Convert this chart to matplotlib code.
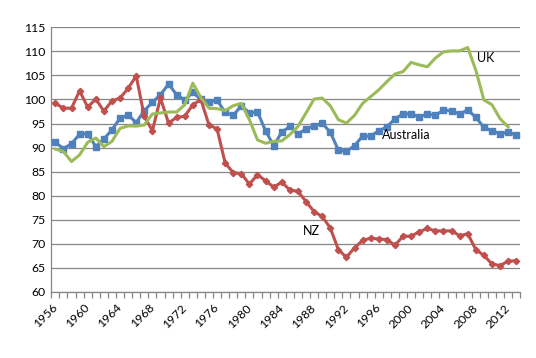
import matplotlib.pyplot as plt

years = list(range(1956, 2014))

australia = [91.1, 89.8, 90.8, 92.8, 92.9, 90.2, 91.8, 93.7, 96.1, 96.8,
             95.2, 97.7, 99.4, 101.0, 103.2, 101.0, 99.9, 101.5, 100.0, 99.4,
             99.9, 97.3, 96.7, 98.7, 97.2, 97.4, 93.5, 90.4, 93.2, 94.4,
             92.8, 93.9, 94.5, 95.1, 93.2, 89.5, 89.2, 90.4, 92.4, 92.4,
             93.5, 94.3, 96.0, 97.0, 97.0, 96.4, 97.0, 96.7, 97.8, 97.6,
             97.0, 97.8, 96.3, 94.2, 93.5, 92.9, 93.2, 92.6]

nz = [99.2, 98.2, 98.2, 101.8, 98.4, 100.1, 97.6, 99.7, 100.3, 102.3,
      104.9, 96.5, 93.5, 100.3, 95.1, 96.3, 96.5, 98.9, 100.0, 94.7,
      93.9, 86.8, 84.8, 84.6, 82.4, 84.4, 83.1, 81.8, 82.8, 81.2,
      80.9, 78.8, 76.7, 75.7, 73.3, 68.8, 67.2, 69.2, 70.7, 71.2,
      71.0, 70.9, 69.7, 71.6, 71.6, 72.5, 73.2, 72.7, 72.7, 72.7,
      71.7, 72.1, 68.8, 67.6, 65.8, 65.5, 66.4, 66.5]

# UK series stops at 2012
uk = [89.7, 89.2, 87.1, 88.5, 91.1, 92.0, 90.2, 91.3, 94.0, 94.5,
      94.5, 94.7, 97.0, 97.2, 97.4, 97.4, 98.9, 103.4, 100.4, 98.2,
      98.1, 97.7, 98.7, 99.2, 95.8, 91.6, 90.9, 91.3, 91.4, 92.7,
      94.4, 97.2, 100.1, 100.3, 98.7, 95.8, 95.1, 96.7, 99.2, 100.6,
      102.0, 103.7, 105.3, 105.8, 107.7, 107.2, 106.8, 108.6, 109.9, 110.1,
      110.1, 110.8, 106.1, 99.9, 98.9, 96.0, 94.3]

label_years = years[::4]

plt.rcParams["font.family"] = ["Lato", "DejaVu Sans"]

fig = plt.figure(figsize=(5.36, 3.58), dpi=100)
ax = fig.add_axes([0.0957, 0.1844, 0.875, 0.7393])

xa = [y - 1956 for y in years]
ax.plot(xa, australia, color="#4F81BD", lw=2.2, marker="s", markersize=5,
        zorder=3)
ax.plot(xa, nz, color="#C0504D", lw=2.2, marker="D", markersize=3.2,
        zorder=4)
ax.plot(xa[:len(uk)], uk, color="#9BBB59", lw=2.2, zorder=5)

ax.set_xlim(-0.5, len(years) - 0.5)
ax.set_ylim(60, 115)
ax.set_yticks(range(60, 116, 5))
ax.yaxis.grid(True, color="#868686", lw=0.9)
ax.set_axisbelow(True)

ax.set_xticks([y - 1956 for y in label_years])
ax.set_xticklabels([str(y) for y in label_years], rotation=45, ha="right",
                   va="center", rotation_mode="anchor")
ax.set_xticks([i - 0.5 for i in range(len(years) + 1)], minor=True)
ax.tick_params(axis="x", which="major", length=0, pad=10, labelsize=8.8)
ax.tick_params(axis="x", which="minor", length=4, color="#868686",
               width=0.9)
ax.tick_params(axis="y", length=0, pad=4, labelsize=8.8)

for s in ["top", "right"]:
    ax.spines[s].set_visible(False)
for s in ["left", "bottom"]:
    ax.spines[s].set_color("#868686")
    ax.spines[s].set_linewidth(0.9)

ax.text(2008.1 - 1956, 108.7, "UK", fontsize=9, va="center")
ax.text(1996.4 - 1956, 92.6, "Australia", fontsize=9, va="center")
ax.text(1986.6 - 1956, 72.6, "NZ", fontsize=9, va="center")

fig.savefig("out.png", dpi=100)
